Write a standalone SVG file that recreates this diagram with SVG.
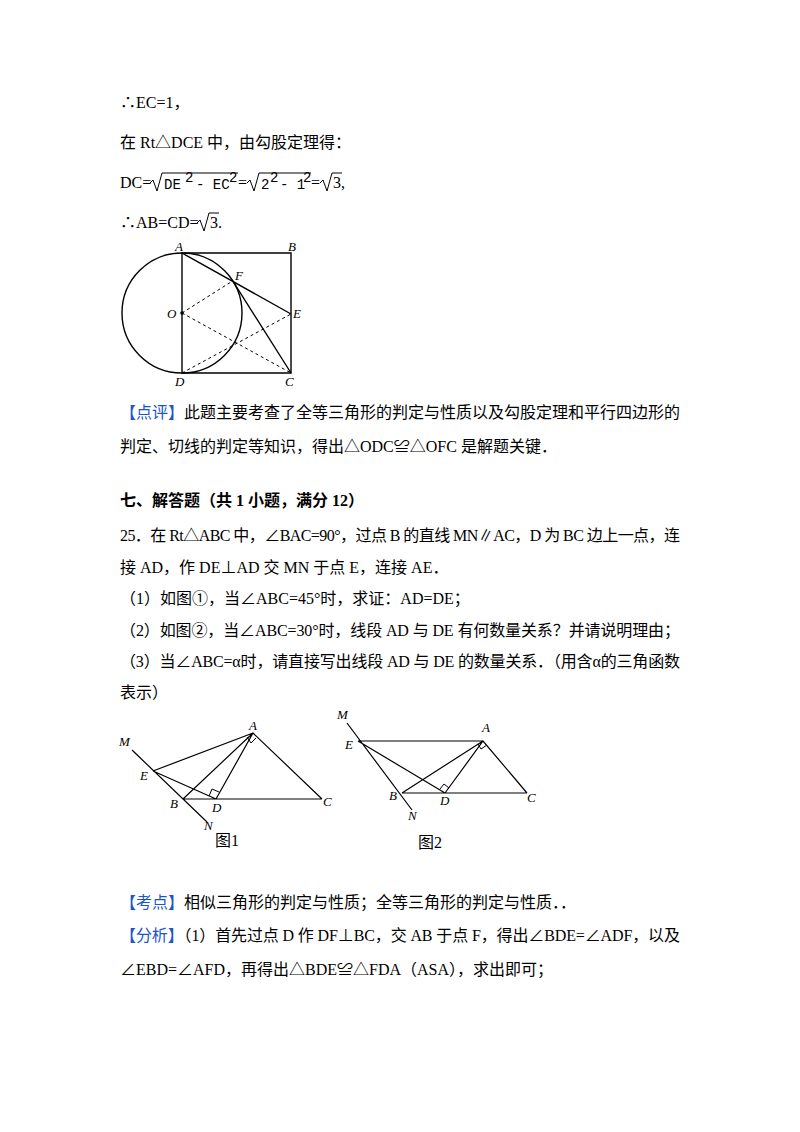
<svg xmlns="http://www.w3.org/2000/svg" width="800" height="1132" viewBox="0 0 800 1132">
<style>
text{font-family:"Liberation Serif","Noto Sans CJK SC",serif;font-size:16px;fill:#000}
.b{fill:#1a56c8}
.bold{font-weight:bold}
.l{font-family:"Liberation Serif",serif;font-style:italic;font-size:13px}
.m{font-family:"Liberation Mono",monospace;font-size:14px}
.s{fill:none;stroke:#000;stroke-width:1.4}
.d{fill:none;stroke:#000;stroke-width:1;stroke-dasharray:3,3}
</style>
<rect width="800" height="1132" fill="#fff"/>
<text x="120" y="108">∴EC=1，</text>
<text x="120" y="148">在 Rt△DCE 中，由勾股定理得：</text>
<g id="formula">
<text x="120" y="188">DC=</text>
<path class="s" style="stroke-width:1" d="M150,183 l3,-3 l4,11 l5,-18 h76"/>
<text class="m" x="164" y="189">DE</text><text class="m" x="185" y="182" font-size="11">2</text><text class="m" x="196" y="189">- EC</text><text class="m" x="229" y="182" font-size="11">2</text>
<text x="238" y="188">=</text>
<path class="s" style="stroke-width:1" d="M247,183 l3,-3 l4,11 l5,-18 h52"/>
<text class="m" x="261" y="189">2</text><text class="m" x="270" y="182" font-size="11">2</text><text class="m" x="280" y="189">- 1</text><text class="m" x="303" y="182" font-size="11">2</text>
<text x="311" y="188">=</text>
<path class="s" style="stroke-width:1" d="M320,183 l3,-3 l4,11 l5,-18 h10"/>
<text x="333" y="188">3,</text>
</g>
<g id="ab">
<text x="120" y="228">∴AB=CD=</text>
<path class="s" style="stroke-width:1" d="M197,223 l3,-3 l4,11 l5,-18 h10"/>
<text x="210" y="228">3.</text>
</g>
<g id="fig0">
<circle class="s" cx="182" cy="313" r="60"/>
<path class="s" d="M182,253 H291 V373 H182 Z"/>
<path class="s" d="M182,253 L291,314 M232.7,280.9 L291,373"/>
<path class="d" d="M182,313 L232.7,280.9 M182,313 L291,373 M182,373 L291,314"/>
<circle cx="182" cy="313" r="1.8"/>
<text class="l" x="175" y="251">A</text><text class="l" x="288" y="251">B</text>
<text class="l" x="235" y="280">F</text><text class="l" x="167" y="318">O</text>
<text class="l" x="293" y="318">E</text><text class="l" x="175" y="386">D</text><text class="l" x="285" y="386">C</text>
</g>
<text x="120" y="418" textLength="560"><tspan class="b">【点评】</tspan>此题主要考查了全等三角形的判定与性质以及勾股定理和平行四边形的</text>
<text x="120" y="452">判定、切线的判定等知识，得出△ODC≌△OFC 是解题关键．</text>
<text x="120" y="506" class="bold">七、解答题（共 1 小题，满分 12）</text>
<text x="120" y="541" textLength="560">25．在 Rt△ABC 中，∠BAC=90°，过点 B 的直线 MN∥AC，D 为 BC 边上一点，连</text>
<text x="120" y="573">接 AD，作 DE⊥AD 交 MN 于点 E，连接 AE．</text>
<text x="120" y="604">（1）如图①，当∠ABC=45°时，求证：AD=DE；</text>
<text x="120" y="636" textLength="560">（2）如图②，当∠ABC=30°时，线段 AD 与 DE 有何数量关系？并请说明理由；</text>
<text x="120" y="667" textLength="560">（3）当∠ABC=α时，请直接写出线段 AD 与 DE 的数量关系．（用含α的三角函数</text>
<text x="120" y="698">表示）</text>
<g id="fig1">
<path class="s" style="stroke-width:1.2" d="M132,750 L207,822 M153,771 L253,733 M183,799 L253,733 M216,799 L253,733 L322,799 M153,771 L216,799 M183,799 H322"/>
<path class="s" style="stroke-width:1" d="M209,796 L212,789 L219,792 M247,737 L251,743 L256,738"/>
<text class="l" x="119" y="746">M</text><text class="l" x="140" y="780">E</text>
<text class="l" x="170" y="808">B</text><text class="l" x="212" y="812">D</text>
<text class="l" x="323" y="806">C</text><text class="l" x="249" y="730">A</text>
<text class="l" x="204" y="830">N</text>
<text x="215" y="846" font-size="14">图1</text>
</g>
<g id="fig2">
<path class="s" style="stroke-width:1.2" d="M347,723 L412,810 M358,741 H483 M358,741 L445,793 M402,793 L483,741 M445,793 L483,741 L527,793 M402,793 H527"/>
<path class="s" style="stroke-width:1" d="M440,789 L444,784 L449,788 M478,744 L481,749 L487,745"/>
<text class="l" x="337" y="719">M</text><text class="l" x="345" y="749">E</text>
<text class="l" x="389" y="800">B</text><text class="l" x="440" y="805">D</text>
<text class="l" x="527" y="802">C</text><text class="l" x="482" y="732">A</text>
<text class="l" x="408" y="820">N</text>
<text x="418" y="848" font-size="14">图2</text>
</g>
<text x="120" y="908"><tspan class="b">【考点】</tspan>相似三角形的判定与性质；全等三角形的判定与性质．．</text>
<text x="120" y="941" textLength="560"><tspan class="b">【分析】</tspan>（1）首先过点 D 作 DF⊥BC，交 AB 于点 F，得出∠BDE=∠ADF，以及</text>
<text x="120" y="975">∠EBD=∠AFD，再得出△BDE≌△FDA（ASA），求出即可；</text>
</svg>
